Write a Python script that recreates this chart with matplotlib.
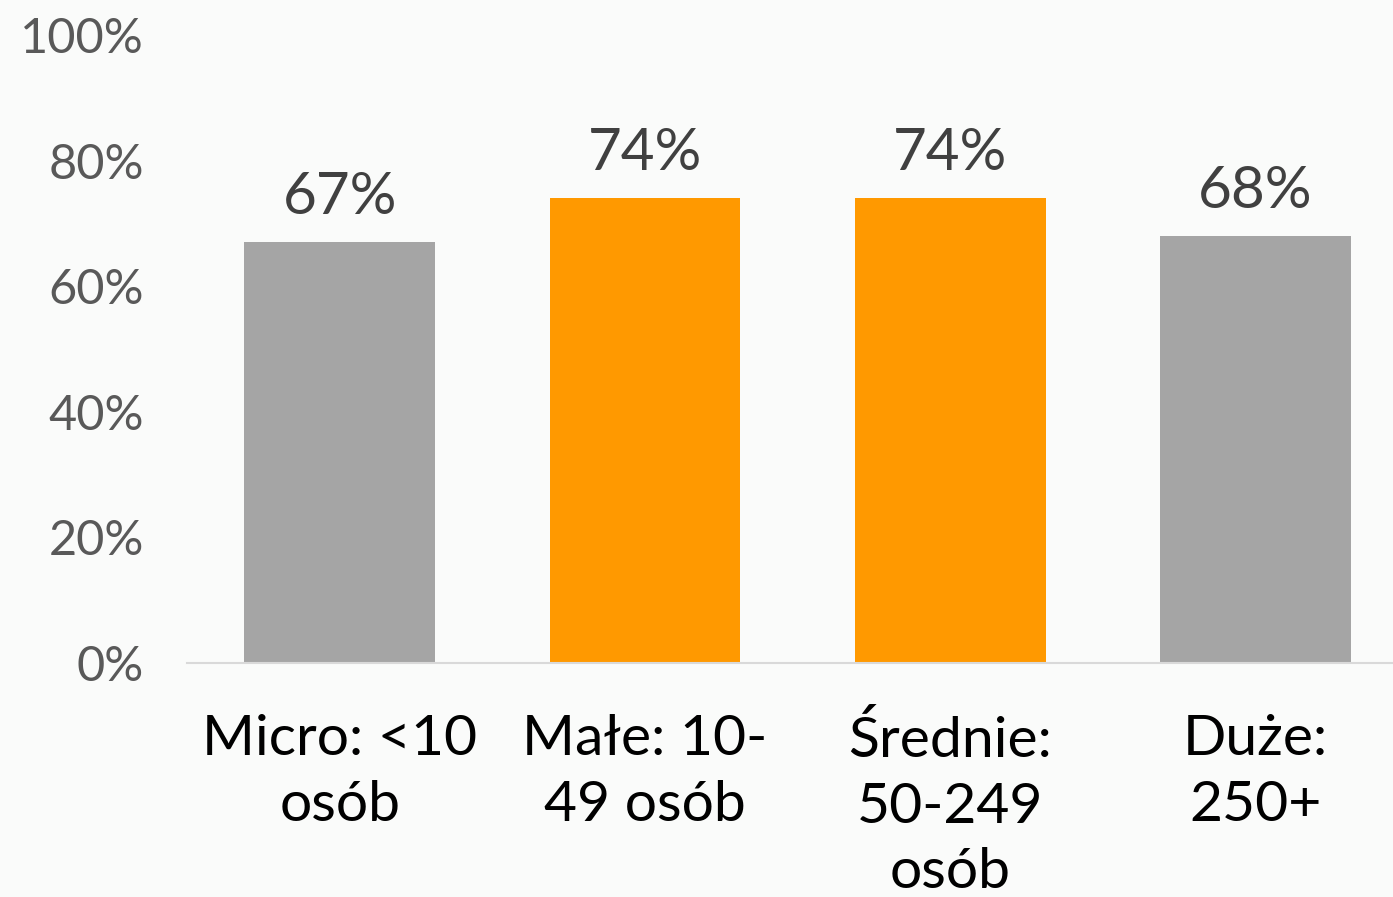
import matplotlib
matplotlib.use("Agg")
import matplotlib.pyplot as plt
from matplotlib.ticker import FuncFormatter

categories = ["Micro: <10\nosób", "Małe: 10-\n49 osób", "Średnie:\n50-249\nosób", "Duże:\n250+"]
values = [0.67, 0.74, 0.74, 0.68]
bar_colors = ["#A5A5A5", "#FF9900", "#FF9900", "#A5A5A5"]
yticks = [0, 0.2, 0.4, 0.6, 0.8, 1.0]

plt.rcParams['font.family'] = ['Lato', 'DejaVu Sans']
bg = "#FAFBFA"

fig = plt.figure(figsize=(13.93, 8.97), dpi=100, facecolor=bg)
ax = fig.add_axes([187/1393, 234/897, 1 - 187/1393, 628/897])
ax.set_facecolor(bg)

x = list(range(len(categories)))
bars = ax.bar(x, values, width=0.625, color=bar_colors, zorder=2)

for xi, v in zip(x, values):
    ax.annotate(f"{round(v*100)}%", (xi, v), xytext=(0, 13), textcoords="offset points",
                ha="center", va="bottom", fontsize=42, color="#404040")

ax.set_xlim(-0.5, 3.45)
ax.set_ylim(0, 1.0)
ax.set_yticks(yticks)
ax.yaxis.set_major_formatter(FuncFormatter(lambda v, p: f"{round(v*100)}%"))
ax.tick_params(axis='y', length=0, pad=31, labelsize=35, labelcolor="#595959")
ax.set_xticks(x)
ax.set_xticklabels(categories, fontsize=41, color="black", linespacing=1.35)
ax.tick_params(axis='x', length=0, pad=37)

for s in ["top", "right", "left"]:
    ax.spines[s].set_visible(False)
ax.spines["bottom"].set_color("#D9D9D9")
ax.spines["bottom"].set_linewidth(1.5)

fig.savefig("out.png", dpi=100, facecolor=bg)
